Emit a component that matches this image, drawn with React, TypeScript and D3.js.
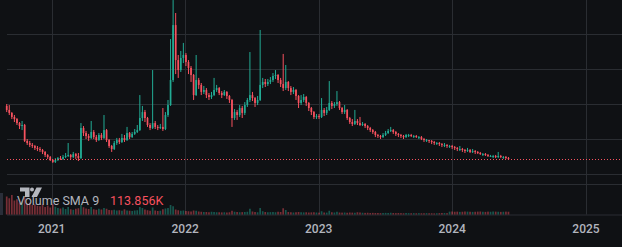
import React from 'react';
import * as d3 from 'd3';

// ---- data (weekly candles) ----
const START_DATE = '2020-08-31';
const firstOpen = 38.9;
const closes = [
  36.6, 34.9, 32.6, 31.4, 29.1, 27.4, 28.0, 18.9, 17.7, 16.6,
  16.0, 14.9, 14.3, 13.7, 12.6, 10.9, 9.7, 8.0, 6.9, 8.0,
  9.1, 8.6, 9.7, 10.3, 10.9, 9.7, 11.4, 10.3, 9.1, 26.3,
  23.4, 21.7, 20.6, 24.0, 21.1, 19.4, 22.3, 20.6, 25.1, 19.4,
  16.0, 14.3, 17.7, 19.4, 18.3, 20.6, 19.4, 23.4, 21.1, 22.9,
  24.0, 25.1, 32.0, 35.4, 32.0, 28.0, 26.3, 29.1, 26.9, 26.3,
  26.9, 25.7, 33.7, 39.4, 53.7, 85.1, 65.1, 59.4, 66.3, 68.0,
  64.0, 60.6, 56.6, 45.1, 53.7, 50.9, 46.9, 48.0, 45.1, 44.0,
  45.1, 48.0, 49.1, 46.3, 45.1, 46.9, 44.6, 42.3, 32.0, 35.4,
  33.7, 37.7, 34.9, 39.4, 42.3, 45.1, 43.4, 40.6, 42.3, 50.9,
  52.6, 51.4, 52.6, 53.7, 56.0, 56.6, 53.7, 51.4, 49.1, 52.6,
  49.1, 46.9, 48.0, 44.6, 40.6, 42.3, 44.0, 40.6, 37.7, 35.4,
  32.6, 33.1, 32.6, 36.6, 34.9, 36.6, 40.6, 38.9, 40.0, 41.1,
  37.7, 35.4, 36.6, 32.0, 29.7, 28.6, 30.3, 29.1, 28.0, 28.6,
  27.4, 26.3, 25.1, 24.0, 22.3, 21.7, 21.1, 22.3, 23.4, 24.6,
  25.1, 24.0, 22.9, 22.3, 21.7, 21.1, 22.3, 22.3, 21.7, 21.7,
  21.1, 21.1, 20.0, 19.4, 19.4, 18.9, 18.3, 17.7, 17.7, 17.1,
  16.6, 16.6, 16.0, 16.0, 15.4, 14.9, 14.3, 14.3, 13.7, 13.1,
  13.7, 12.6, 13.1, 12.6, 12.0, 11.4, 11.4, 10.9, 10.3, 10.3,
  10.3, 9.7, 10.3, 9.7, 9.7, 9.1, 8.6,
];
const highs = [
  40.0, 39.4, 35.4, 33.7, 32.0, 29.7, 30.3, 28.6, 20.0, 18.9,
  17.7, 16.6, 16.0, 15.4, 14.3, 13.1, 11.4, 10.3, 8.6, 9.1,
  9.7, 10.3, 10.9, 12.0, 17.7, 11.4, 12.6, 12.0, 12.0, 29.1,
  27.4, 24.6, 22.9, 30.3, 25.1, 22.3, 23.4, 23.4, 33.7, 25.7,
  20.0, 16.6, 18.9, 20.6, 20.6, 22.9, 22.3, 26.9, 24.0, 24.0,
  25.7, 28.0, 45.1, 38.9, 36.6, 32.6, 29.1, 59.4, 30.3, 28.0,
  28.6, 37.7, 35.4, 42.3, 77.1, 99.4, 92.0, 68.0, 70.3, 74.9,
  69.1, 65.1, 61.7, 57.1, 68.0, 54.9, 52.0, 50.3, 49.1, 46.3,
  46.9, 54.9, 50.9, 49.7, 47.4, 48.0, 47.4, 45.1, 42.9, 37.1,
  36.6, 39.4, 38.9, 41.1, 43.4, 69.7, 46.9, 44.0, 44.6, 82.3,
  54.9, 54.3, 54.3, 55.4, 57.7, 59.4, 57.1, 54.9, 68.6, 62.3,
  53.1, 50.3, 49.7, 48.6, 45.1, 45.1, 45.7, 44.6, 41.1, 38.3,
  36.0, 34.3, 34.3, 43.4, 37.7, 38.3, 53.1, 41.7, 41.1, 47.4,
  41.7, 38.3, 39.4, 37.1, 32.6, 31.4, 36.6, 31.4, 32.6, 29.7,
  29.1, 28.0, 26.9, 25.7, 24.6, 22.9, 22.3, 23.4, 24.6, 25.7,
  26.9, 25.7, 24.6, 23.4, 22.9, 22.3, 22.9, 22.9, 22.9, 22.3,
  22.3, 21.7, 21.7, 20.6, 20.0, 19.4, 19.4, 18.9, 18.3, 18.3,
  17.7, 17.7, 17.1, 16.6, 16.6, 16.0, 15.4, 16.0, 14.9, 14.3,
  14.9, 14.3, 14.3, 13.7, 13.1, 12.6, 12.0, 12.0, 11.4, 10.9,
  10.9, 10.9, 12.6, 10.9, 10.3, 10.3, 9.7,
];
const lows = [
  35.4, 33.7, 31.4, 29.7, 28.0, 25.7, 25.1, 18.3, 16.6, 15.4,
  14.9, 13.7, 13.1, 12.6, 11.4, 9.7, 8.6, 7.4, 6.3, 6.3,
  7.4, 8.0, 8.0, 9.1, 9.7, 8.6, 9.1, 8.6, 7.4, 8.6,
  21.7, 20.0, 18.9, 20.0, 20.0, 18.3, 18.9, 19.4, 20.0, 18.3,
  14.9, 12.6, 13.7, 16.6, 17.1, 17.7, 18.3, 18.9, 20.0, 20.6,
  22.3, 23.4, 24.6, 30.3, 29.7, 26.9, 25.1, 25.7, 25.7, 25.1,
  25.7, 24.6, 25.1, 32.6, 38.9, 52.6, 57.1, 54.9, 58.3, 63.4,
  61.7, 57.1, 52.6, 42.3, 44.6, 48.6, 45.1, 45.7, 43.4, 42.3,
  42.9, 44.6, 46.9, 45.1, 43.4, 44.6, 42.9, 40.6, 26.9, 30.9,
  30.9, 32.6, 32.0, 33.7, 38.3, 41.1, 41.7, 38.3, 39.4, 41.7,
  49.1, 49.7, 50.3, 51.4, 52.6, 54.3, 52.0, 49.7, 47.4, 48.0,
  47.4, 45.1, 45.7, 42.3, 37.7, 39.4, 41.1, 38.9, 36.0, 33.7,
  31.4, 31.4, 31.4, 32.0, 33.1, 33.7, 36.0, 37.1, 37.7, 38.9,
  36.6, 34.3, 34.3, 30.9, 28.6, 27.4, 28.0, 28.0, 27.4, 27.4,
  26.3, 25.1, 24.0, 22.9, 21.1, 20.6, 20.0, 20.6, 21.7, 22.9,
  24.0, 22.9, 21.7, 21.1, 20.6, 20.0, 20.6, 21.1, 21.1, 20.6,
  20.6, 20.0, 19.4, 18.3, 18.3, 17.7, 17.1, 16.6, 16.6, 16.0,
  15.4, 15.4, 14.9, 14.9, 14.3, 13.7, 13.1, 13.1, 12.6, 12.0,
  12.6, 12.0, 12.0, 11.4, 11.4, 10.9, 10.3, 10.3, 9.7, 9.7,
  9.1, 9.1, 9.1, 9.1, 8.6, 8.6, 8.0,
];
// volume in thousands
const volumes = [
  720, 650, 780, 560, 610, 480,
  520, 690, 430, 470, 380, 410,
  350, 330, 400, 300, 360, 280, 420,
  310, 260, 240, 280, 220, 300, 210, 190, 230, 250,
  380, 290, 240, 220, 300, 210, 190, 230,
  200, 260, 230, 180, 170, 190, 160, 170, 150, 210, 160, 150, 140, 160, 170,
  300, 260, 200, 170, 150, 280, 160, 140, 150, 210, 240, 260,
  380, 330,
  200, 170, 150, 160, 140, 130, 120,
  160, 150, 120, 110, 100, 100, 90, 110, 100, 90, 90, 85, 90, 80, 90,
  150, 110, 100, 90, 95, 100, 110, 230, 120, 100, 90, 260,
  130, 100, 90, 95, 100, 90, 110, 100, 250, 180, 100, 90, 80, 90,
  100, 90, 85, 90, 80, 85, 90, 80, 75, 130, 80, 75, 150, 90, 80, 110, 80, 75, 80,
  70, 80, 75, 70, 90, 80, 70, 65, 70, 60, 65, 60, 60, 55, 60, 65, 60, 70, 60, 55, 60, 55, 50, 60, 55, 50, 55, 50,
  55, 50, 50, 55, 50, 50, 45, 50, 55, 60, 60, 55, 115, 120, 110, 115, 105, 110, 120, 115,
  110, 105, 110, 115, 120, 110, 105, 115, 110, 120, 115, 110, 105, 110, 115, 110,
];
const yearTicks = ['2021', '2022', '2023', '2024', '2025'];
const priceGrid = [0, 20, 40, 60, 80];
const legendName = 'Volume SMA 9';
const legendValue = '113.856K';

// ---- style ----
const W = 622;
const H = 247;
const BG = '#0f1114';
const GRID = '#2a2d32';
const UP = '#22ab94';
const DOWN = '#f7525f';
const TEXT = '#b2b5be';
const FONT = 'Roboto, "Noto Sans", sans-serif';

export default function App() {
  const parse = d3.utcParse('%Y-%m-%d');
  const start = parse(START_DATE) as Date;
  const candles = closes.map((c, i) => ({
    date: d3.utcDay.offset(start, 7 * i),
    open: i === 0 ? firstOpen : closes[i - 1],
    high: highs[i],
    low: lows[i],
    close: c,
    volume: volumes[i],
  }));

  const x = d3
    .scaleUtc()
    .domain([parse('2021-01-01') as Date, parse('2025-01-01') as Date])
    .range([51.7, 586]);
  const y = d3.scaleLinear().domain([0, 80]).range([174, 34]);
  const vy = d3.scaleLinear().domain([0, 1000]).range([214.5, 189.5]);

  const left = 7;
  const paneBottom = 214.5;
  const bodyW = 1.7;
  const last = closes[closes.length - 1];

  return (
    <div style={{ position: 'fixed', left: 0, top: 0, width: W, height: H }}>
      <svg width={W} height={H} style={{ display: 'block', background: BG }}>
        <rect x={0} y={0} width={W} height={H} fill={BG} />
        {/* horizontal grid */}
        {priceGrid.map((p) => (
          <line key={p} x1={left} x2={W} y1={Math.round(y(p)) + 0.5} y2={Math.round(y(p)) + 0.5} stroke={GRID} strokeWidth={1} />
        ))}
        {/* pane separator and time axis border */}
        <line x1={left} x2={W} y1={184.5} y2={184.5} stroke={GRID} strokeWidth={1} />
        <line x1={left} x2={W} y1={paneBottom + 0.5} y2={paneBottom + 0.5} stroke={GRID} strokeWidth={1} />
        {/* vertical grid */}
        {yearTicks.map((t) => {
          const xx = Math.round(x(parse(`${t}-01-01`) as Date)) + 0.5;
          return <line key={t} x1={xx} x2={xx} y1={0} y2={paneBottom} stroke={GRID} strokeWidth={1} />;
        })}

        {/* volume */}
        {candles.map((d, i) => (
          <rect
            key={`v${i}`}
            x={x(d.date) - bodyW / 2}
            y={vy(d.volume)}
            width={bodyW}
            height={paneBottom - vy(d.volume)}
            fill={d.close >= d.open ? UP : DOWN}
            opacity={0.45}
          />
        ))}

        {/* candles */}
        {candles.map((d, i) => {
          const cx = x(d.date);
          const col = d.close >= d.open ? UP : DOWN;
          const top = y(Math.max(d.open, d.close));
          const bot = y(Math.min(d.open, d.close));
          return (
            <g key={`c${i}`}>
              <line x1={cx} x2={cx} y1={y(d.high)} y2={y(d.low)} stroke={col} strokeWidth={1} />
              <rect x={cx - bodyW / 2} y={top} width={bodyW} height={Math.max(1, bot - top)} fill={col} />
            </g>
          );
        })}

        {/* last price dotted line */}
        <line
          x1={left}
          x2={W}
          y1={Math.round(y(last)) + 0.5}
          y2={Math.round(y(last)) + 0.5}
          stroke={DOWN}
          strokeWidth={1}
          strokeDasharray="1 2"
        />

        {/* TradingView logo */}
        <g fill="#d1d4dc" opacity={0.85}>
          <path d="M20 187.5 H29.5 V197 H25 V191.5 H20 Z" />
          <circle cx={32} cy={189.5} r={2} />
          <path d="M36.5 187.5 H42 L37 197 H31.5 Z" />
        </g>

        {/* legend */}
        <text x={17} y={205} fontFamily={FONT} fontSize={12.5} fill={TEXT}>
          {legendName}
        </text>
        <text x={110} y={205} fontFamily={FONT} fontSize={12.5} fill={DOWN}>
          {legendValue}
        </text>

        {/* collapse tab */}
        <rect x={0} y={193} width={3} height={22} fill="#2a2e39" />

        {/* time axis labels */}
        {yearTicks.map((t) => (
          <text
            key={`t${t}`}
            x={x(parse(`${t}-01-01`) as Date)}
            y={232.5}
            textAnchor="middle"
            fontFamily={FONT}
            fontSize={12}
            fontWeight={500}
            fill={TEXT}
          >
            {t}
          </text>
        ))}
      </svg>
    </div>
  );
}
